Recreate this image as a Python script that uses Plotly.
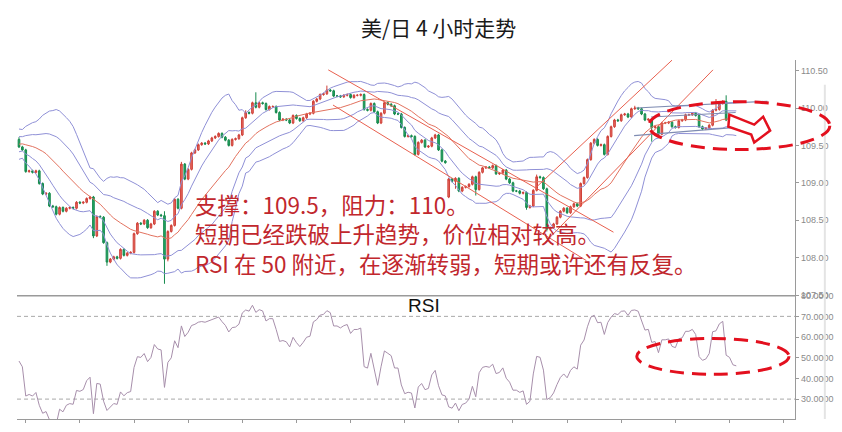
import numpy as np
import pandas as pd
import plotly.graph_objects as go
from plotly.subplots import make_subplots

# ---------------- data ----------------
title_text = "美/日 4 小时走势"
note_lines = ["支撑：109.5，阻力：110。",
              "短期已经跌破上升趋势，价位相对较高。",
              "RSI 在 50 附近，在逐渐转弱，短期或许还有反复。"]

prior_closes = [109.35, 109.40, 109.32, 109.45, 109.50, 109.42, 109.38, 109.48, 109.55, 109.60,
                109.52, 109.58, 109.65, 109.62, 109.55, 109.60, 109.68, 109.62, 109.58]
first_open = 109.58
closes_a = [109.48, 109.44, 109.15, 109.16, 109.14, 109.16, 108.99, 108.85, 108.86, 108.69,
            108.68, 108.58, 108.67, 108.62, 108.66, 108.67, 108.66, 108.74, 108.73, 108.74,
            108.79, 108.81, 108.29, 108.55, 108.54, 108.20, 107.94, 107.98, 108.01, 107.99,
            108.11, 108.03, 108.06, 108.07, 108.32, 108.46, 108.45, 108.50, 108.40, 108.45,
            108.62, 108.57, 108.56, 107.98, 108.35, 108.43, 108.78, 108.66, 109.25, 109.05,
            109.18, 109.40, 109.44, 109.51]
closes_b = [109.53, 109.52, 109.56, 109.60, 109.62, 109.66, 109.61, 109.57, 109.50, 109.58,
            109.59, 109.64, 109.87, 109.94, 109.93, 110.07, 110.01, 110.07, 110.06, 109.98,
            110.02, 110.02, 109.94, 109.84, 109.85, 109.84, 109.80, 109.90, 109.86, 109.83,
            109.87, 109.92, 109.93, 110.09, 110.12, 110.18, 110.19, 110.24, 110.23, 110.16,
            110.16, 110.15, 110.17, 110.18, 110.14, 110.17, 110.17, 110.18, 109.98, 109.97,
            110.06, 109.95, 109.80, 109.93, 110.07, 110.05, 110.03, 109.92, 109.92, 109.74,
            109.62, 109.63, 109.62, 109.38, 109.54, 109.57, 109.48, 109.49, 109.60, 109.64,
            109.44, 109.29, 109.27]
gap_open_c = 108.81
closes_c = [109.05, 109.02, 109.06, 108.89, 108.94, 108.95, 108.98, 109.08, 108.91, 109.14,
            109.20, 109.21, 109.20, 109.23, 109.12, 109.13, 109.17, 109.05, 109.00, 108.89,
            108.89, 108.86, 108.87, 108.67, 108.69, 108.90, 109.08, 109.07, 108.92, 108.38,
            108.40, 108.45, 108.54, 108.62, 108.66, 108.60, 108.68, 108.72, 108.69, 108.99,
            109.07, 109.31, 109.53, 109.58, 109.50, 109.51, 109.38, 109.62, 109.75, 109.84,
            109.83, 109.91, 109.92, 109.88, 109.99, 110.00, 109.99, 109.92, 109.84, 109.85,
            109.74, 109.75, 109.65, 109.80, 109.80, 109.81, 109.75, 109.74, 109.83, 109.84,
            109.91, 109.91, 109.93, 109.90, 109.75, 109.72, 109.73, 109.77, 109.97, 109.98,
            110.06, 110.09, 109.84, 109.82, 109.75, 109.74]
base_wick_pips = 1.5
upper_wick_pips = {0: 3, 43: 6, 48: 3, 67: 3, 70: 14, 91: 6, 153: 3, 182: 3, 206: 14, 209: 8}
lower_wick_pips = {22: 3, 26: 5, 43: 33, 44: 3, 129: 10, 135: 8, 150: 3, 156: 3, 187: 19}

# analyst drawings (candle index, price)
red_trendlines = [
    (91.4, 110.51, 175.7, 108.34),
    (92.8, 110.04, 167.7, 107.96),
    (153.1, 108.95, 193.0, 110.64),
    (155.4, 108.20, 205.1, 110.51),
]
blue_trendlines = [
    (182.4, 110.00, 221.2, 110.09),
    (186.8, 109.88, 211.8, 109.94),
    (181.8, 109.63, 211.8, 109.74),
]
price_ticks = [107.5, 108.0, 108.5, 109.0, 109.5, 110.0, 110.5]
rsi_ticks = [30, 40, 50, 60, 70, 80]
rsi_levels = [70, 30]

# ---------------- build series ----------------
closes = closes_a + closes_b + closes_c
n = len(closes)
opens = [first_open] + closes[:-1]
opens[len(closes_a) + len(closes_b)] = gap_open_c
highs, lows = [], []
for i, (o, c) in enumerate(zip(opens, closes)):
    highs.append(max(o, c) + upper_wick_pips.get(i, base_wick_pips) / 100)
    lows.append(min(o, c) - lower_wick_pips.get(i, base_wick_pips) / 100)
idx = list(range(n))

allc = pd.Series(prior_closes + closes)
ma = allc.rolling(20).mean()
sd = allc.rolling(20).std(ddof=0)
k = len(prior_closes)
ma_v = ma.iloc[k:].tolist()
sd_v = sd.iloc[k:].to_numpy()
d = allc.diff().fillna(0)
au = d.clip(lower=0).ewm(alpha=1 / 14, adjust=False).mean()
ad = (-d.clip(upper=0)).ewm(alpha=1 / 14, adjust=False).mean()
rsi = (100 - 100 / (1 + au / ad)).iloc[k:].tolist()

# ---------------- layout helpers (page pixels; page body has an 8px margin) ----------------
OFF = 8
W, H = 842 - OFF, 432 - OFF
PL, PT, PR, PB = 17, 60, 799, 421        # plot area in page pixels
PW, PH = PR - PL, PB - PT
ML, MT = PL - OFF, PT - OFF
MR, MB = W - (PR - OFF), H - (PB - OFF)
def px(x): return (x - PL) / PW
def py(y): return (PB - y) / PH

step = (740 - 19) / (n - 1)
xr = [-(19 - PL) / step, (n - 1) + (PR - 740) / step]

fig = make_subplots(rows=2, cols=1, shared_xaxes=True, vertical_spacing=0,
                    row_heights=[(297 - PT) / PH, (PB - 297) / PH])

band_col = "#8f90d6"
for mult in (2, 1, -1, -2):
    fig.add_trace(go.Scatter(x=idx, y=np.array(ma_v) + mult * sd_v, mode="lines",
                             line=dict(color=band_col, width=1), hoverinfo="skip",
                             showlegend=False), row=1, col=1)
fig.add_trace(go.Scatter(x=idx, y=ma_v, mode="lines", line=dict(color="#e2725f", width=1),
                         hoverinfo="skip", showlegend=False), row=1, col=1)
fig.add_trace(go.Candlestick(x=idx, open=opens, high=highs, low=lows, close=closes,
                             increasing=dict(line=dict(color="#cf4038", width=1), fillcolor="#e86a62"),
                             decreasing=dict(line=dict(color="#178a4e", width=1), fillcolor="#22a864"),
                             whiskerwidth=0, showlegend=False), row=1, col=1)
for x0, y0, x1, y1 in red_trendlines:
    fig.add_trace(go.Scatter(x=[x0, x1], y=[y0, y1], mode="lines",
                             line=dict(color="#e8604f", width=1), hoverinfo="skip",
                             showlegend=False), row=1, col=1)
for x0, y0, x1, y1 in blue_trendlines:
    fig.add_trace(go.Scatter(x=[x0, x1], y=[y0, y1], mode="lines",
                             line=dict(color="#7f8cb2", width=1.2), hoverinfo="skip",
                             showlegend=False), row=1, col=1)

fig.add_trace(go.Scatter(x=idx, y=rsi, mode="lines", line=dict(color="#a78fab", width=1),
                         hoverinfo="skip", showlegend=False), row=2, col=1)

tick_font = dict(family="Liberation Sans, Arial, sans-serif", size=9, color="#8a8a8a")
fig.update_xaxes(range=xr, showgrid=False, zeroline=False, showticklabels=False,
                 rangeslider=dict(visible=False))
fig.update_xaxes(showline=False, ticks="", row=1, col=1)
fig.update_xaxes(showline=True, linecolor="#9a9a9a", linewidth=1.2, ticks="outside",
                 ticklen=3, tickcolor="#9a9a9a", tick0=2, dtick=16, row=2, col=1)
fig.update_yaxes(side="right", showgrid=False, zeroline=False, showline=True,
                 linecolor="#9a9a9a", linewidth=1.2, ticks="outside", ticklen=3,
                 tickcolor="#9a9a9a", tickfont=tick_font)
fig.update_yaxes(range=[107.491, 110.642], tickvals=price_ticks,
                 ticktext=[f"{v:.2f}" for v in price_ticks], row=1, col=1)
fig.update_yaxes(range=[20.38, 80.0], tickvals=rsi_ticks,
                 ticktext=[f"{v:.4f}" for v in rsi_ticks], row=2, col=1)

shapes = []
for lv in rsi_levels:
    shapes.append(dict(type="line", xref="paper", yref="y2", x0=0, x1=1, y0=lv, y1=lv,
                       line=dict(color="#a8a8a8", width=1, dash="4px,3px"), layer="below"))
shapes.append(dict(type="line", xref="paper", yref="paper", x0=0, x1=1, y0=py(297), y1=py(297),
                   line=dict(color="#9a9a9a", width=1.5)))
shapes.append(dict(type="line", xref="paper", yref="paper", x0=px(829), x1=px(829),
                   y0=py(421), y1=py(85), line=dict(color="#e4e4e4", width=2)))
ell = dict(color="#e3101e", width=3, dash="14px,8px")
shapes.append(dict(type="circle", xref="paper", yref="paper", x0=px(652), x1=px(834),
                   y0=py(150), y1=py(102), line=ell))
shapes.append(dict(type="circle", xref="paper", yref="paper", x0=px(640), x1=px(793),
                   y0=py(376), y1=py(340), line=ell))
arrow_pts = [(733, 115), (758, 125), (767, 117), (774, 131), (758, 143), (755, 135), (732, 127)]
path = "M " + " L ".join(f"{px(a):.5f},{py(b):.5f}" for a, b in arrow_pts) + " Z"
shapes.append(dict(type="path", xref="paper", yref="paper", path=path,
                   line=dict(color="#e3101e", width=2.5), fillcolor="white"))

cjk = "Noto Sans CJK SC, sans-serif"
annotations = [
    dict(text=title_text, xref="paper", yref="paper", x=px(441), y=py(27), showarrow=False,
         font=dict(family=cjk, size=21, color="#1a1a1a"), xanchor="center", yanchor="middle"),
    dict(text="RSI", xref="paper", yref="paper", x=px(426), y=py(307), showarrow=False,
         font=dict(family="Liberation Sans, Arial, sans-serif", size=19, color="#111"),
         xanchor="center", yanchor="middle"),
    dict(text="<br>".join(note_lines), xref="paper", yref="paper", x=px(194), y=py(234),
         showarrow=False, xanchor="left", yanchor="middle", align="left",
         font=dict(family=cjk, size=22.5, color="#c1272d")),
]

fig.update_layout(width=W, height=H, margin=dict(l=ML, r=MR, t=MT, b=MB),
                  paper_bgcolor="white", plot_bgcolor="white", showlegend=False,
                  shapes=shapes, annotations=annotations)

fig.write_html("out.html")
